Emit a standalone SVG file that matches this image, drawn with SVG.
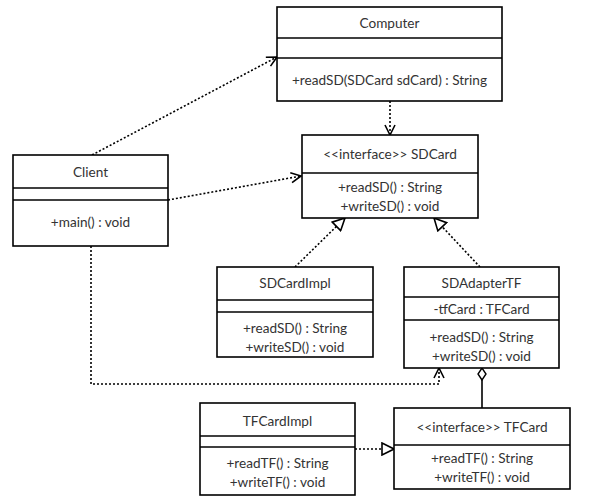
<svg xmlns="http://www.w3.org/2000/svg" width="594" height="499" viewBox="0 0 594 499">
<defs>
<style>
.box{fill:#fff;stroke:#000;stroke-width:1.6}
.ln{stroke:#000;stroke-width:1.6}
text{font-family:Lato,"Liberation Sans",sans-serif;font-size:13.6px;fill:#333;text-anchor:middle}
.dep{fill:none;stroke:#000;stroke-width:1.6;stroke-dasharray:2 2}
.sol{fill:none;stroke:#000;stroke-width:1.6}
</style>
<marker id="open" viewBox="0 0 12 12" refX="11" refY="6" markerWidth="12" markerHeight="12" markerUnits="userSpaceOnUse" orient="auto">
<path d="M1,1 L11,6 L1,11" fill="none" stroke="#000" stroke-width="1.6"/>
</marker>
<marker id="tri" viewBox="0 0 14 14" refX="13" refY="7" markerWidth="14" markerHeight="14" markerUnits="userSpaceOnUse" orient="auto">
<path d="M1,1 L13,7 L1,13 Z" fill="#fff" stroke="#000" stroke-width="1.6"/>
</marker>
<marker id="dia" viewBox="0 0 14 10" refX="13" refY="5" markerWidth="14" markerHeight="10" markerUnits="userSpaceOnUse" orient="auto">
<path d="M1,5 L7,1 L13,5 L7,9 Z" fill="#fff" stroke="#000" stroke-width="1.4"/>
</marker>
</defs>
<rect width="594" height="499" fill="#fff"/>
<g id="connectors">
<path class="dep" d="M92,155 L277,57" marker-end="url(#open)"/>
<path class="dep" d="M168,200 L301,176" marker-end="url(#open)"/>
<path class="dep" d="M390,101 L390,135" marker-end="url(#open)"/>
<path class="dep" d="M295,267 L345,218" marker-end="url(#tri)"/>
<path class="dep" d="M480,267 L434,218" marker-end="url(#tri)"/>
<path class="dep" d="M91,246 L91,384 L439,384 L439,368" marker-end="url(#open)"/>
<path class="sol" d="M482,408 L482,368" marker-end="url(#dia)"/>
<path class="dep" d="M355,449 L394,449" marker-end="url(#tri)"/>
</g>
<g id="Computer">
<rect class="box" x="277" y="7" width="225" height="94"/>
<line class="ln" x1="277" y1="38" x2="502" y2="38"/>
<line class="ln" x1="277" y1="58" x2="502" y2="58"/>
<text x="389.5" y="27.5">Computer</text>
<text x="389.5" y="84.5">+readSD(SDCard sdCard) : String</text>
</g>
<g id="Client">
<rect class="box" x="13" y="155" width="155" height="91"/>
<line class="ln" x1="13" y1="188" x2="168" y2="188"/>
<line class="ln" x1="13" y1="200" x2="168" y2="200"/>
<text x="90.5" y="176.5">Client</text>
<text x="90.5" y="226.5">+main() : void</text>
</g>
<g id="SDCard">
<rect class="box" x="302" y="135" width="176" height="83"/>
<line class="ln" x1="302" y1="173" x2="478" y2="173"/>
<text x="390" y="158.5">&lt;&lt;interface&gt;&gt; SDCard</text>
<text x="390" y="191.5">+readSD() : String</text>
<text x="390" y="210.5">+writeSD() : void</text>
</g>
<g id="SDCardImpl">
<rect class="box" x="217" y="267" width="156" height="90"/>
<line class="ln" x1="217" y1="300" x2="373" y2="300"/>
<line class="ln" x1="217" y1="312" x2="373" y2="312"/>
<text x="295" y="287.5">SDCardImpl</text>
<text x="295" y="332.5">+readSD() : String</text>
<text x="295" y="351.5">+writeSD() : void</text>
</g>
<g id="SDAdapterTF">
<rect class="box" x="404" y="267" width="155" height="101"/>
<line class="ln" x1="404" y1="297" x2="559" y2="297"/>
<line class="ln" x1="404" y1="320" x2="559" y2="320"/>
<text x="481.5" y="287.5">SDAdapterTF</text>
<text x="481.5" y="314">-tfCard : TFCard</text>
<text x="481.5" y="341.5">+readSD() : String</text>
<text x="481.5" y="361">+writeSD() : void</text>
</g>
<g id="TFCardImpl">
<rect class="box" x="200" y="403" width="155" height="92"/>
<line class="ln" x1="200" y1="436" x2="355" y2="436"/>
<line class="ln" x1="200" y1="447" x2="355" y2="447"/>
<text x="277.5" y="425.5">TFCardImpl</text>
<text x="277.5" y="467.5">+readTF() : String</text>
<text x="277.5" y="486.5">+writeTF() : void</text>
</g>
<g id="TFCard">
<rect class="box" x="394" y="408" width="176" height="81"/>
<line class="ln" x1="394" y1="445" x2="570" y2="445"/>
<text x="482" y="431.5">&lt;&lt;interface&gt;&gt; TFCard</text>
<text x="482" y="462.5">+readTF() : String</text>
<text x="482" y="481.5">+writeTF() : void</text>
</g>
</svg>
